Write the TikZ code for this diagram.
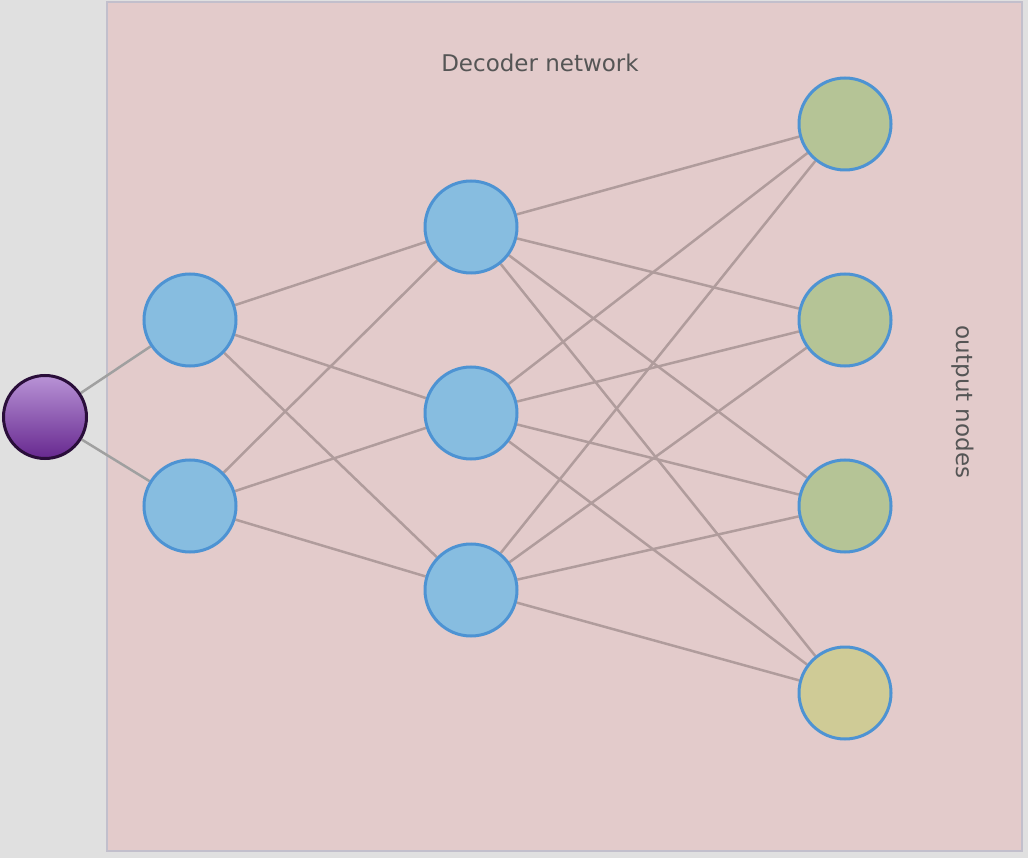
\documentclass[tikz,border=0pt]{standalone}
\usepackage{fontspec}
\setmainfont{DejaVu Sans}
\usetikzlibrary{backgrounds}
\definecolor{bgray}{HTML}{E0E0E0}
\definecolor{panel}{HTML}{E3CBCB}
\definecolor{panelborder}{HTML}{C2BFCC}
\definecolor{hidfill}{HTML}{87BDE0}
\definecolor{nodeborder}{HTML}{4D93D3}
\definecolor{outgreen}{HTML}{B5C496}
\definecolor{outyellow}{HTML}{CFCB96}
\definecolor{edgecol}{HTML}{B09C9C}
\definecolor{inedge}{HTML}{A0A0A0}
\definecolor{txt}{HTML}{555555}
\definecolor{ptop}{HTML}{B993D6}
\definecolor{pbot}{HTML}{66288F}
\definecolor{pborder}{HTML}{2A0E3A}
\tikzset{
  neuron/.style={circle, minimum size=92pt, inner sep=0pt, line width=3pt, draw=nodeborder},
  hidden/.style={neuron, fill=hidfill},
  outg/.style={neuron, fill=outgreen},
  outy/.style={neuron, fill=outyellow},
  inputnode/.style={circle, minimum size=83pt, inner sep=0pt, line width=3pt, draw=pborder, top color=ptop, bottom color=pbot},
  conn/.style={draw=edgecol, line width=2.5pt},
  inconn/.style={draw=inedge, line width=2.5pt},
  lbl/.style={text=txt, font=\fontsize{23}{27}\selectfont}
}
\begin{document}
\begin{tikzpicture}[x=1pt,y=-1pt]
\useasboundingbox (0,0) rectangle (1028,858);
\node[inputnode] (in) at (45,417) {};
\node[hidden] (a1) at (190,320) {};
\node[hidden] (a2) at (190,506) {};
\node[hidden] (b1) at (471,227) {};
\node[hidden] (b2) at (471,413) {};
\node[hidden] (b3) at (471,590) {};
\node[outg] (c1) at (845,124) {};
\node[outg] (c2) at (845,320) {};
\node[outg] (c3) at (845,506) {};
\node[outy] (c4) at (845,693) {};
\node[lbl] (title) at (540,63) {Decoder network};
\node[lbl, rotate=-90] (outlbl) at (963,402) {output nodes};
\begin{scope}[on background layer]
\fill[bgray] (0,0) rectangle (1028,858);
\fill[panel, draw=panelborder, line width=2.5pt] (107,2) rectangle (1022,851);
\draw[inconn] (in) -- (a1);
\draw[inconn] (in) -- (a2);
\foreach \s in {a1,a2}{\foreach \t in {b1,b2,b3}{\draw[conn] (\s) -- (\t);}}
\foreach \s in {b1,b2,b3}{\foreach \t in {c1,c2,c3,c4}{\draw[conn] (\s) -- (\t);}}
\end{scope}
\end{tikzpicture}
\end{document}
